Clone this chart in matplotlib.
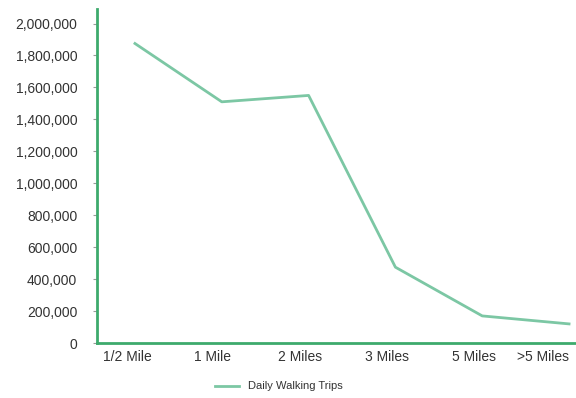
import matplotlib
matplotlib.use('Agg')
import matplotlib.pyplot as plt
from matplotlib.ticker import FuncFormatter

plt.rcParams['font.family'] = ['Liberation Sans', 'DejaVu Sans']

categories = ['1/2 Mile', '1 Mile', '2 Miles', '3 Miles', '5 Miles', '>5 Miles']
trips = [1875000, 1510000, 1550000, 475000, 170000, 120000]

line_color = '#7cc7a4'
axis_color = '#3daa6c'

fig = plt.figure(figsize=(5.76, 3.98), dpi=100)
ax = fig.add_axes([0.168, 0.138, 0.832, 0.839])

x = list(range(len(categories)))
ax.plot(x, trips, color=line_color, linewidth=2, label='Daily Walking Trips')

ax.set_xlim(-0.44, 5.08)
ax.set_ylim(0, 2090000)
ax.set_yticks(range(0, 2000001, 200000))
ax.yaxis.set_major_formatter(FuncFormatter(lambda v, p: f'{int(v):,}'))
ax.set_xticks(x)
ax.set_xticklabels([])

# category labels sit a bit left of the points, last one pulled inside the figure
shifts = [-8, -9, -9, -8, -8, -26]
for xi, cat, dx in zip(x, categories, shifts):
    ax.annotate(cat, xy=(xi, 0), xycoords=('data', 'axes fraction'),
                xytext=(dx * 0.72, -14 * 0.72), textcoords='offset points',
                ha='center', va='center', fontsize=10, color='#333333')

for s in ['top', 'right']:
    ax.spines[s].set_visible(False)
for s in ['left', 'bottom']:
    ax.spines[s].set_color(axis_color)
    ax.spines[s].set_linewidth(2)

ax.tick_params(axis='y', length=3, color='#9a9a9a', labelsize=10, labelcolor='#333333', pad=11)
ax.tick_params(axis='x', length=0)

ax.legend(loc='upper center', bbox_to_anchor=(0.38, -0.085), frameon=False,
          fontsize=8, handlelength=2.2, labelcolor='#333333')

fig.savefig('out.png', dpi=100)
